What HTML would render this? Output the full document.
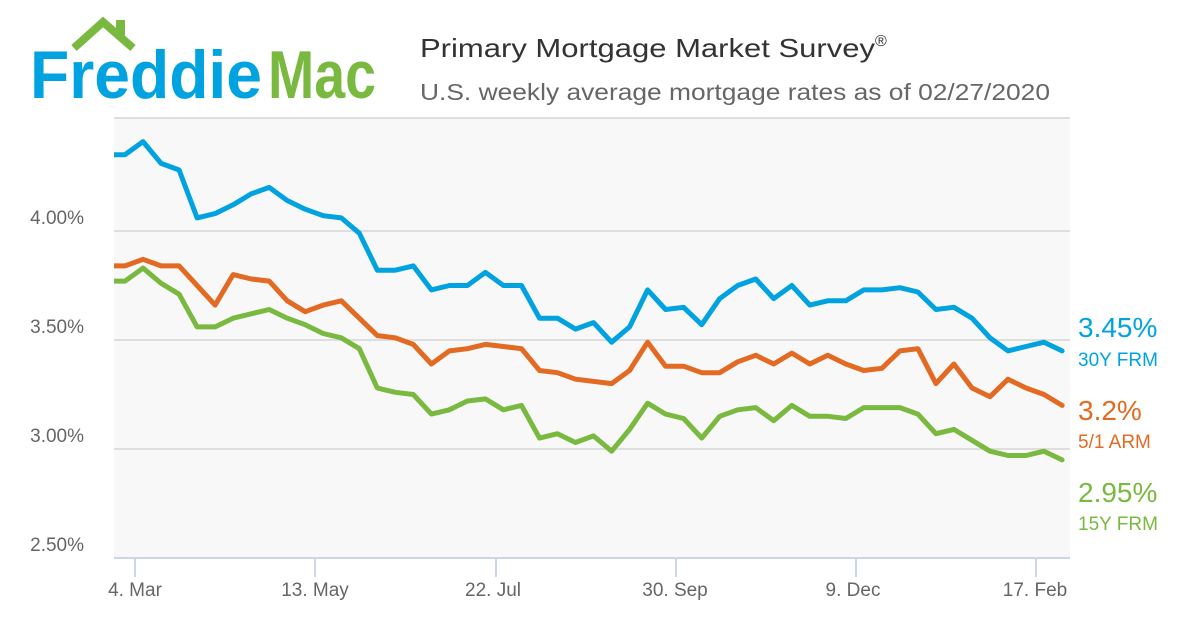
<!DOCTYPE html>
<html><head><meta charset="utf-8"><style>
html,body{margin:0;padding:0;background:#fff;}
svg{display:block;font-family:"Liberation Sans",sans-serif;}
</style></head><body>
<svg id="s" width="1200" height="630" viewBox="0 0 1200 630" xmlns="http://www.w3.org/2000/svg">
<rect width="1200" height="630" fill="#fff"/>
<!-- logo -->
<polyline points="74,48 103,22 133,48" fill="none" stroke="#7ab93f" stroke-width="8"/>
<rect x="116" y="20" width="9" height="16" fill="#7ab93f"/>
<text x="30" y="98" font-size="68" font-weight="bold" fill="#00a3e0" textLength="232" lengthAdjust="spacingAndGlyphs">Freddie</text>
<text x="268" y="98" font-size="68" font-weight="bold" fill="#7ab93f" textLength="108" lengthAdjust="spacingAndGlyphs">Mac</text>
<text x="420" y="57" font-size="26" fill="#333"><tspan textLength="455" lengthAdjust="spacingAndGlyphs">Primary Mortgage Market Survey</tspan><tspan font-size="16" dy="-11">®</tspan></text>
<text x="420" y="100" font-size="23" fill="#666" textLength="630" lengthAdjust="spacingAndGlyphs">U.S. weekly average mortgage rates as of 02/27/2020</text>
<!-- plot -->
<rect x="114" y="118" width="956" height="440" fill="#f8f8f8"/>
<g stroke="#dedede" stroke-width="2">
<line x1="114" y1="118" x2="1070" y2="118"/>
<line x1="114" y1="231" x2="1070" y2="231"/>
<line x1="114" y1="340" x2="1070" y2="340"/>
<line x1="114" y1="449" x2="1070" y2="449"/>
</g>
<line x1="114" y1="558" x2="1070" y2="558" stroke="#ccd6eb" stroke-width="2"/>
<g stroke="#ccd6eb" stroke-width="2">
<line x1="135" y1="558" x2="135" y2="577"/><line x1="315" y1="558" x2="315" y2="577"/>
<line x1="496" y1="558" x2="496" y2="577"/><line x1="676" y1="558" x2="676" y2="577"/>
<line x1="856" y1="558" x2="856" y2="577"/><line x1="1036" y1="558" x2="1036" y2="577"/>
</g>
<g font-size="19" fill="#666" text-anchor="middle">
<text x="135" y="596">4. Mar</text><text x="315" y="596">13. May</text><text x="493" y="596">22. Jul</text>
<text x="675" y="596">30. Sep</text><text x="853" y="596">9. Dec</text><text x="1035" y="596">17. Feb</text>
</g>
<g font-size="19" fill="#666" text-anchor="end">
<text x="84" y="224">4.00%</text><text x="84" y="333">3.50%</text><text x="84" y="442">3.00%</text><text x="84" y="551">2.50%</text>
</g>
<defs><clipPath id="c"><rect x="114" y="110" width="960" height="450"/></clipPath></defs>
<g clip-path="url(#c)" fill="none" stroke-width="5" stroke-linejoin="round" stroke-linecap="round">
<polyline id="p30" stroke="#00a3e0"/>
<polyline id="parm" stroke="#e26a23"/>
<polyline id="p15" stroke="#7ab93f"/>
</g>
<text x="1078" y="337" font-size="28" fill="#00a3e0">3.45%</text>
<text x="1078" y="366" font-size="19" fill="#00a3e0">30Y FRM</text>
<text x="1078" y="420" font-size="28" fill="#e26a23">3.2%</text>
<text x="1078" y="448" font-size="19" fill="#e26a23">5/1 ARM</text>
<text x="1078" y="502" font-size="28" fill="#7ab93f">2.95%</text>
<text x="1078" y="530" font-size="19" fill="#7ab93f">15Y FRM</text>
</svg>
<script>
var d30=[4.35,4.35,4.41,4.31,4.28,4.06,4.08,4.12,4.17,4.20,4.14,4.10,4.07,4.06,3.99,3.82,3.82,3.84,3.73,3.75,3.75,3.81,3.75,3.75,3.60,3.60,3.55,3.58,3.49,3.56,3.73,3.64,3.65,3.57,3.69,3.75,3.78,3.69,3.75,3.66,3.68,3.68,3.73,3.73,3.74,3.72,3.64,3.65,3.60,3.51,3.45,3.47,3.49,3.45];
var d15=[3.77,3.77,3.83,3.76,3.71,3.56,3.56,3.60,3.62,3.64,3.60,3.57,3.53,3.51,3.46,3.28,3.26,3.25,3.16,3.18,3.22,3.23,3.18,3.20,3.05,3.07,3.03,3.06,2.99,3.09,3.21,3.16,3.14,3.05,3.15,3.18,3.19,3.13,3.20,3.15,3.15,3.14,3.19,3.19,3.19,3.16,3.07,3.09,3.04,2.99,2.97,2.97,2.99,2.95];
var da=[3.84,3.84,3.87,3.84,3.84,3.75,3.66,3.80,3.78,3.77,3.68,3.63,3.66,3.68,3.60,3.52,3.51,3.48,3.39,3.45,3.46,3.48,3.47,3.46,3.36,3.35,3.32,3.31,3.30,3.36,3.49,3.38,3.38,3.35,3.35,3.40,3.43,3.39,3.44,3.39,3.43,3.39,3.36,3.37,3.45,3.46,3.30,3.39,3.28,3.24,3.32,3.28,3.25,3.20];
function pts(a){return a.map(function(v,i){return (107+i*18.02).toFixed(1)+","+(231-(v-4)*218).toFixed(1);}).join(" ");}
document.getElementById("p30").setAttribute("points",pts(d30));
document.getElementById("p15").setAttribute("points",pts(d15));
document.getElementById("parm").setAttribute("points",pts(da));
</script>
</body></html>
